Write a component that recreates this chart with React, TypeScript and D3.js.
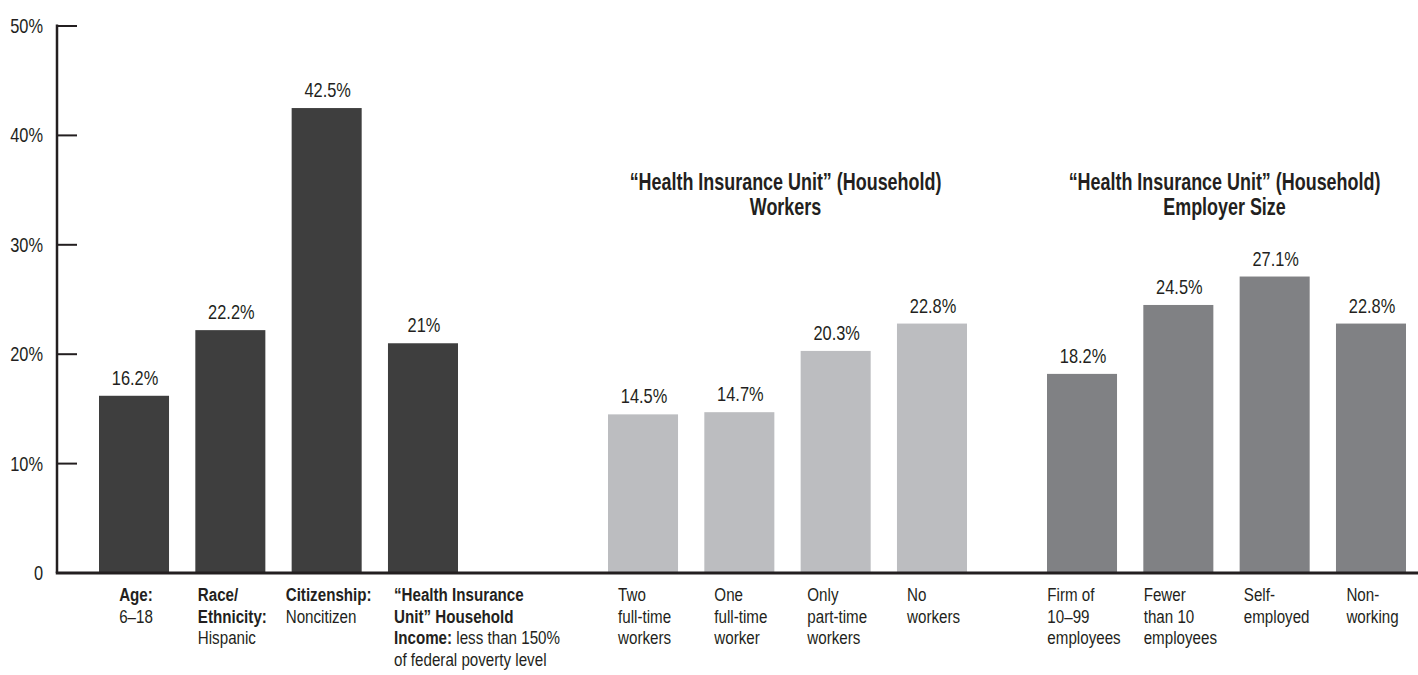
import React, { useEffect, useRef } from 'react';
import * as d3 from 'd3';

type Seg = [string, boolean];
type Label = Seg[][];

// ---- data ----
const yTicks = [0, 10, 20, 30, 40, 50];
const yTickLabels = ['0', '10%', '20%', '30%', '40%', '50%'];

const demoCategories = ['Age', 'Race/Ethnicity', 'Citizenship', 'HIU Income'];
const demoValues = [16.2, 22.2, 42.5, 21];
const demoLabels: Label[] = [
  [[['Age:', true]], [['6–18', false]]],
  [[['Race/', true]], [['Ethnicity:', true]], [['Hispanic', false]]],
  [[['Citizenship:', true]], [['Noncitizen', false]]],
  [
    [['“Health Insurance', true]],
    [['Unit” Household', true]],
    [['Income:', true], [' less than 150%', false]],
    [['of federal poverty level', false]],
  ],
];

const workersTitle = ['“Health Insurance Unit” (Household)', 'Workers'];
const workersCategories = ['Two full-time', 'One full-time', 'Only part-time', 'No workers'];
const workersValues = [14.5, 14.7, 20.3, 22.8];
const workersLabels: Label[] = [
  [[['Two', false]], [['full-time', false]], [['workers', false]]],
  [[['One', false]], [['full-time', false]], [['worker', false]]],
  [[['Only', false]], [['part-time', false]], [['workers', false]]],
  [[['No', false]], [['workers', false]]],
];

const employerTitle = ['“Health Insurance Unit” (Household)', 'Employer Size'];
const employerCategories = ['Firm 10-99', 'Fewer than 10', 'Self-employed', 'Non-working'];
const employerValues = [18.2, 24.5, 27.1, 22.8];
const employerLabels: Label[] = [
  [[['Firm of', false]], [['10–99', false]], [['employees', false]]],
  [[['Fewer', false]], [['than 10', false]], [['employees', false]]],
  [[['Self-', false]], [['employed', false]]],
  [[['Non-', false]], [['working', false]]],
];

// ---- style / layout ----
const W = 1418;
const H = 675;
const FONT = '"Liberation Sans", Arial, sans-serif';
const NARROW = 0.82;
const TEXT = '#231f20';
const AXIS_X = 57;
const BASE_Y = 573;
const TOP_Y = 26;

const groups = [
  { cats: demoCategories, vals: demoValues, labels: demoLabels, title: null as string[] | null, color: '#3e3e3e', range: [99, 458] },
  { cats: workersCategories, vals: workersValues, labels: workersLabels, title: workersTitle, color: '#bcbdc0', range: [608, 967] },
  { cats: employerCategories, vals: employerValues, labels: employerLabels, title: employerTitle, color: '#808184', range: [1047, 1406] },
];

const fmt = (v: number) => (Number.isInteger(v) ? `${v}%` : `${v.toFixed(1)}%`);

export default function App() {
  const ref = useRef<SVGSVGElement>(null);

  useEffect(() => {
    const svg = d3.select(ref.current);
    svg.selectAll('*').remove();

    const y = d3.scaleLinear().domain([0, 50]).range([BASE_Y, TOP_Y]);

    const place = (x: number, yy: number, sx = NARROW) => `translate(${x},${yy}) scale(${sx},1)`;

    // y axis
    const ax = svg.append('g');
    ax.append('line')
      .attr('x1', AXIS_X).attr('x2', AXIS_X)
      .attr('y1', y(50) - 1.5).attr('y2', BASE_Y)
      .attr('stroke', TEXT).attr('stroke-width', 2.5);
    yTicks.forEach((t, i) => {
      if (t > 0) {
        ax.append('line')
          .attr('x1', AXIS_X).attr('x2', AXIS_X + 20)
          .attr('y1', y(t)).attr('y2', y(t))
          .attr('stroke', TEXT).attr('stroke-width', 2);
      }
      ax.append('text')
        .attr('transform', place(43, y(t) + 7))
        .attr('text-anchor', 'end')
        .attr('font-family', FONT).attr('font-size', 20).attr('fill', TEXT)
        .text(yTickLabels[i]);
    });

    groups.forEach((g) => {
      const x = d3.scaleBand<string>().domain(g.cats).range(g.range as [number, number]).paddingInner(0.273).paddingOuter(0);
      const gg = svg.append('g');
      gg.selectAll('rect.bar').data(g.vals).join('rect')
        .attr('class', 'bar')
        .attr('x', (_, i) => x(g.cats[i])!)
        .attr('width', x.bandwidth())
        .attr('y', (d) => y(d))
        .attr('height', (d) => BASE_Y - y(d))
        .attr('fill', g.color);

      gg.selectAll('text.val').data(g.vals).join('text')
        .attr('class', 'val')
        .attr('transform', (d, i) => place(x(g.cats[i])! + x.bandwidth() / 2 + 1, y(d) - 11))
        .attr('text-anchor', 'middle')
        .attr('font-family', FONT).attr('font-size', 20).attr('fill', TEXT)
        .text((d) => fmt(d));

      // category labels
      g.labels.forEach((lab, i) => {
        const lg = gg.append('g');
        lab.forEach((line, li) => {
          const t = lg.append('text')
            .attr('transform', place(0, 601 + li * 21.5))
            .attr('font-family', FONT).attr('font-size', 18.5).attr('fill', TEXT);
          line.forEach(([s, b]) => {
            t.append('tspan').attr('font-weight', b ? 'bold' : 'normal').text(s);
          });
        });
        const bb = (lg.node() as SVGGElement).getBBox();
        const left = x(g.cats[i])!;
        const bw = x.bandwidth();
        let tx = left + bw / 2 - bb.width / 2 + 2;
        if (bb.width > bw + 26) tx = left + 6;
        lg.attr('transform', `translate(${tx},0)`);
      });

      if (g.title) {
        const cx = (g.range[0] + g.range[1]) / 2;
        g.title.forEach((s, li) => {
          gg.append('text')
            .attr('transform', place(cx - 2, 190 + li * 24.5, 0.78))
            .attr('text-anchor', 'middle')
            .attr('font-family', FONT).attr('font-size', 23).attr('font-weight', 'bold').attr('fill', TEXT)
            .text(s);
        });
      }
    });

    // baseline
    svg.append('line')
      .attr('x1', AXIS_X - 1.25).attr('x2', W)
      .attr('y1', BASE_Y).attr('y2', BASE_Y)
      .attr('stroke', TEXT).attr('stroke-width', 3);
  }, []);

  return (
    <svg
      ref={ref}
      width={W}
      height={H}
      style={{ position: 'absolute', left: 0, top: 0, background: '#fff' }}
    />
  );
}
